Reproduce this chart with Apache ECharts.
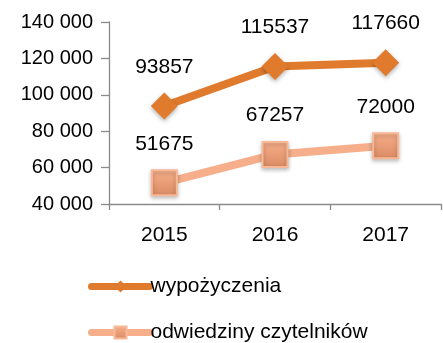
<!DOCTYPE html>
<html>
<head>
<meta charset="utf-8">
<script src="https://cdn.jsdelivr.net/npm/echarts@6/dist/echarts.min.js"></script>
<style>
  html, body { margin: 0; padding: 0; background: #fff; }
  #chart { width: 443px; height: 343px; }
</style>
</head>
<body>
<div id="chart"></div>
<script>
// Lata (oś X)
const years = ['2015', '2016', '2017'];
// Liczba wypożyczeń
const loans = [93857, 115537, 117660];
// Liczba odwiedzin czytelników
const visits = [51675, 67257, 72000];
// Nazwy serii
const seriesNames = ['wypożyczenia', 'odwiedziny czytelników'];
// Zakres osi Y
const yMin = 40000, yMax = 140000, yStep = 20000;

const FONT = 'Liberation Sans';
const DARK = '#E07B2E';
const LIGHT = '#F6AF8A';
const AXIS = '#8A8A8A';
const TEXT = '#000';

function thousands(v) {
  return String(v).replace(/\B(?=(\d{3})+(?!\d))/g, ' ');
}

const chart = echarts.init(document.getElementById('chart'), null, { renderer: 'canvas' });

const labelStyle = {
  show: true,
  position: 'top',
  distance: 15,
  fontFamily: FONT,
  fontSize: 21,
  color: TEXT
};

// każda pozycja legendy osobno, jedna pod drugą
function legendItem(name, top) {
  return {
    orient: 'vertical',
    left: 88,
    top: top,
    padding: 0,
    itemWidth: 58,
    itemHeight: 15,
    itemGap: 0,
    lineStyle: { width: 7, cap: 'round' },
    textStyle: { fontFamily: FONT, fontSize: 21, color: TEXT, padding: [0, 0, 0, -4] },
    data: [name]
  };
}

chart.setOption({
  animation: false,
  grid: { left: 109, right: 2, top: 22, bottom: 139, containLabel: false },
  legend: [legendItem(seriesNames[0], 276), legendItem(seriesNames[1], 322)],
  xAxis: {
    type: 'category',
    data: years,
    boundaryGap: true,
    axisLine: { lineStyle: { color: AXIS, width: 1.3 } },
    axisTick: { show: true, length: 6, lineStyle: { color: AXIS, width: 1.3 } },
    axisLabel: { margin: 21, fontFamily: FONT, fontSize: 21, color: TEXT }
  },
  yAxis: {
    type: 'value',
    min: yMin,
    max: yMax,
    interval: yStep,
    splitLine: { show: false },
    axisLine: { show: true, lineStyle: { color: AXIS, width: 1.3 } },
    axisTick: { show: true, length: 8, lineStyle: { color: AXIS, width: 1.3 } },
    axisLabel: {
      margin: 16,
      fontFamily: FONT,
      fontSize: 20,
      color: TEXT,
      formatter: thousands
    }
  },
  series: [
    {
      name: seriesNames[0],
      type: 'line',
      data: loans,
      symbol: 'diamond',
      symbolSize: 27,
      lineStyle: { color: DARK, width: 8, cap: 'round' },
      itemStyle: {
        color: DARK,
        shadowColor: 'rgba(0,0,0,0.3)',
        shadowBlur: 4,
        shadowOffsetY: 2
      },
      label: labelStyle,
      z: 3
    },
    {
      name: seriesNames[1],
      type: 'line',
      data: visits,
      symbol: 'rect',
      symbolSize: 25,
      lineStyle: { color: LIGHT, width: 8, cap: 'round' },
      itemStyle: {
        color: new echarts.graphic.LinearGradient(0, 0, 0, 1, [
          { offset: 0, color: '#F8B08B' },
          { offset: 1, color: '#D98A62' }
        ]),
        borderColor: '#F8B895',
        borderWidth: 2,
        shadowColor: 'rgba(0,0,0,0.25)',
        shadowBlur: 4,
        shadowOffsetY: 2
      },
      label: labelStyle,
      z: 2
    }
  ]
});
</script>
</body>
</html>
